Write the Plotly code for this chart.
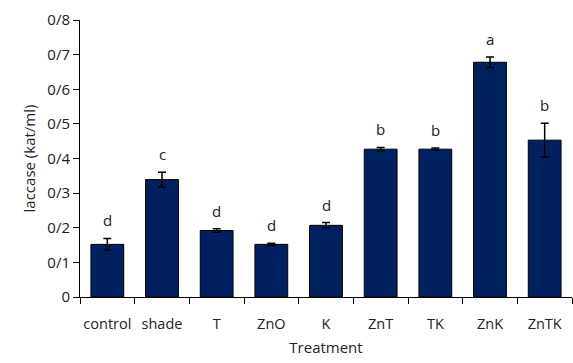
import plotly.graph_objects as go

categories = ["control", "shade", "T", "ZnO", "K", "ZnT", "TK", "ZnK", "ZnTK"]
values = [0.152, 0.339, 0.192, 0.152, 0.207, 0.427, 0.427, 0.678, 0.453]
errors = [0.017, 0.021, 0.005, 0.003, 0.008, 0.005, 0.003, 0.015, 0.049]
letters = ["d", "c", "d", "d", "d", "b", "b", "a", "b"]
ytick_vals = [0, 0.1, 0.2, 0.3, 0.4, 0.5, 0.6, 0.7, 0.8]
ytick_text = ["0", "0/1", "0/2", "0/3", "0/4", "0/5", "0/6", "0/7", "0/8"]

FONT = "Open Sans"
TXT = "#222222"
fig = go.Figure()
fig.add_trace(go.Bar(
    x=categories, y=values,
    marker=dict(color="#002060", line=dict(color="#000000", width=1)),
    error_y=dict(type="data", array=errors, color="#000000", thickness=1.5, width=4),
))
for c, v, e, l in zip(categories, values, errors, letters):
    fig.add_annotation(x=c, y=v + e, text=l, showarrow=False, yanchor="bottom",
                       yshift=6, font=dict(family=FONT, size=15, color=TXT))

fig.update_layout(
    width=573, height=363,
    margin=dict(l=80, r=1, t=20, b=66),
    plot_bgcolor="white", paper_bgcolor="white",
    bargap=0.4, showlegend=False,
    font=dict(family=FONT, size=15, color=TXT),
)
fig.update_xaxes(
    showline=True, linecolor="black", linewidth=1,
    ticks="outside", tickson="boundaries", ticklen=6, tickcolor="black",
    ticklabelstandoff=14, tickangle=0, automargin=False,
    tickfont=dict(family=FONT, size=14.5, color=TXT),
    title=dict(text="Treatment", standoff=10, font=dict(family=FONT, size=15, color=TXT)),
    showgrid=False,
)
fig.update_yaxes(
    range=[0, 0.8], tickvals=ytick_vals, ticktext=ytick_text,
    showline=True, linecolor="black", linewidth=1,
    ticks="outside", ticklen=6, tickcolor="black",
    showgrid=False, zeroline=False, automargin=False,
    tickfont=dict(family=FONT, size=15, color=TXT),
    title=dict(text="laccase (kat/ml)", standoff=8, font=dict(family=FONT, size=15, color=TXT)),
)
fig.write_html("out.html", config={"displayModeBar": False},
               post_script="document.body.style.margin='0';")
